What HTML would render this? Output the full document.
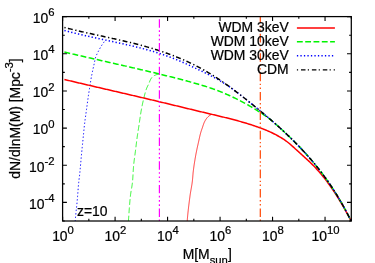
<!DOCTYPE html>
<html><head><meta charset="utf-8"><title>plot</title>
<style>
html,body{margin:0;padding:0;background:#fff;}
body{width:375px;height:263px;overflow:hidden;}
svg{display:block;will-change:transform;}
text{font-family:"Liberation Sans",sans-serif;fill:#000;stroke:#000;stroke-width:0.22px;}
</style></head><body>
<svg width="375" height="263" viewBox="0 0 375 263">
<rect width="375" height="263" fill="#fff"/>
<defs><clipPath id="c"><rect x="62.6" y="16.6" width="288.70" height="204.40"/></clipPath></defs>
<g fill="none" clip-path="url(#c)">
<path d="M75.20,221.50 L75.26,220.57 L75.33,219.64 L75.40,218.72 L75.48,217.79 L75.56,216.86 L75.65,215.94 L75.74,215.01 L75.83,214.08 L75.92,213.16 L76.02,212.23 L76.12,211.31 L76.22,210.38 L76.32,209.45 L76.41,208.53 L76.51,207.60 L76.61,206.68 L76.71,205.75 L76.81,204.83 L76.90,203.90 L76.99,202.97 L77.08,202.05 L77.17,201.12 L77.25,200.19 L77.33,199.27 L77.41,198.34 L77.49,197.41 L77.56,196.48 L77.64,195.56 L77.71,194.63 L77.78,193.70 L77.85,192.77 L77.92,191.84 L77.99,190.92 L78.07,189.99 L78.14,189.06 L78.21,188.13 L78.29,187.20 L78.37,186.28 L78.45,185.35 L78.53,184.42 L78.61,183.50 L78.70,182.57 L78.80,181.65 L78.90,180.72 L79.01,179.80 L79.12,178.87 L79.24,177.95 L79.36,177.03 L79.47,176.10 L79.58,175.18 L79.68,174.25 L79.78,173.33 L79.87,172.40 L79.96,171.48 L80.05,170.55 L80.14,169.62 L80.22,168.70 L80.31,167.77 L80.39,166.84 L80.48,165.92 L80.56,164.99 L80.64,164.06 L80.72,163.13 L80.80,162.21 L80.88,161.28 L80.96,160.35 L81.05,159.43 L81.13,158.50 L81.21,157.57 L81.30,156.65 L81.38,155.72 L81.47,154.79 L81.56,153.87 L81.65,152.94 L81.74,152.01 L81.83,151.09 L81.93,150.16 L82.02,149.23 L82.11,148.31 L82.20,147.38 L82.30,146.46 L82.39,145.53 L82.48,144.60 L82.58,143.68 L82.67,142.75 L82.76,141.83 L82.86,140.90 L82.95,139.98 L83.04,139.05 L83.14,138.12 L83.23,137.20 L83.32,136.27 L83.41,135.34 L83.50,134.42 L83.59,133.49 L83.68,132.57 L83.77,131.64 L83.85,130.71 L83.94,129.79 L84.04,128.86 L84.13,127.93 L84.22,127.01 L84.32,126.08 L84.43,125.16 L84.53,124.23 L84.65,123.31 L84.76,122.39 L84.88,121.46 L85.00,120.54 L85.12,119.62 L85.24,118.70 L85.37,117.77 L85.49,116.85 L85.62,115.93 L85.75,115.01 L85.88,114.09 L86.00,113.16 L86.13,112.24 L86.26,111.32 L86.38,110.40 L86.51,109.47 L86.63,108.55 L86.75,107.63 L86.88,106.71 L87.00,105.79 L87.13,104.86 L87.25,103.94 L87.38,103.02 L87.51,102.10 L87.64,101.17 L87.76,100.25 L87.89,99.33 L88.02,98.41 L88.16,97.49 L88.29,96.57 L88.42,95.65 L88.56,94.73 L88.69,93.81 L88.83,92.89 L88.97,91.97 L89.11,91.05 L89.26,90.13 L89.40,89.21 L89.54,88.29 L89.69,87.37 L89.83,86.45 L89.98,85.53 L90.13,84.61 L90.27,83.69 L90.42,82.77 L90.57,81.85 L90.71,80.93 L90.86,80.01 L91.02,79.10 L91.17,78.18 L91.33,77.26 L91.50,76.35 L91.67,75.43 L91.85,74.52 L92.03,73.61 L92.22,72.70 L92.41,71.78 L92.60,70.87 L92.80,69.97 L93.00,69.06 L93.20,68.15 L93.41,67.24 L93.61,66.33 L93.82,65.42 L94.02,64.51 L94.21,63.60 L94.40,62.68 L94.59,61.76 L94.77,60.85 L94.96,59.93 L95.17,59.02 L95.39,58.12 L95.64,57.23 L95.91,56.36 L96.26,55.50 L96.67,54.67 L97.11,53.84 L97.55,53.01 L97.96,52.17 L98.37,51.34 L98.78,50.51 L99.21,49.68 L99.65,48.86 L100.10,48.04 L100.56,47.23 L101.03,46.43 L101.53,45.65 L102.05,44.88 L102.59,44.12 L103.13,43.36 L103.64,42.58 L104.14,41.79 L104.62,41.00 L105.10,40.20" stroke="#0000ff" stroke-width="0.95" stroke-dasharray="1.4 2.1"/>
<path d="M128.40,221.50 L128.45,220.73 L128.50,219.96 L128.56,219.18 L128.61,218.41 L128.66,217.64 L128.72,216.86 L128.77,216.09 L128.82,215.32 L128.88,214.55 L128.93,213.77 L128.99,213.00 L129.04,212.23 L129.09,211.45 L129.15,210.68 L129.20,209.91 L129.26,209.14 L129.32,208.36 L129.37,207.59 L129.43,206.82 L129.49,206.05 L129.55,205.27 L129.61,204.50 L129.68,203.73 L129.74,202.96 L129.81,202.19 L129.88,201.42 L129.94,200.65 L130.01,199.88 L130.09,199.11 L130.16,198.34 L130.24,197.57 L130.32,196.80 L130.40,196.03 L130.48,195.26 L130.58,194.49 L130.69,193.73 L130.80,192.96 L130.92,192.20 L131.05,191.43 L131.17,190.67 L131.31,189.90 L131.44,189.14 L131.57,188.37 L131.70,187.61 L131.83,186.84 L131.95,186.08 L132.07,185.31 L132.18,184.55 L132.29,183.78 L132.38,183.01 L132.47,182.25 L132.54,181.48 L132.61,180.71 L132.67,179.94 L132.73,179.17 L132.78,178.39 L132.84,177.62 L132.89,176.85 L132.93,176.08 L132.98,175.30 L133.02,174.53 L133.07,173.75 L133.11,172.98 L133.16,172.21 L133.20,171.43 L133.25,170.66 L133.29,169.89 L133.35,169.11 L133.40,168.34 L133.46,167.57 L133.52,166.80 L133.58,166.03 L133.65,165.26 L133.72,164.49 L133.80,163.72 L133.89,162.95 L133.98,162.18 L134.07,161.41 L134.16,160.64 L134.26,159.87 L134.36,159.11 L134.46,158.34 L134.57,157.57 L134.67,156.80 L134.77,156.04 L134.88,155.27 L134.99,154.50 L135.09,153.73 L135.19,152.97 L135.29,152.20 L135.39,151.43 L135.49,150.66 L135.59,149.89 L135.68,149.12 L135.78,148.36 L135.87,147.59 L135.96,146.82 L136.06,146.05 L136.15,145.28 L136.24,144.51 L136.34,143.74 L136.43,142.98 L136.53,142.21 L136.62,141.44 L136.72,140.67 L136.82,139.90 L136.92,139.14 L137.02,138.37 L137.13,137.60 L137.23,136.84 L137.34,136.07 L137.45,135.30 L137.57,134.54 L137.68,133.77 L137.80,133.01 L137.91,132.24 L138.03,131.47 L138.15,130.71 L138.26,129.94 L138.38,129.18 L138.50,128.41 L138.62,127.65 L138.74,126.88 L138.85,126.12 L138.97,125.35 L139.08,124.59 L139.19,123.82 L139.30,123.05 L139.41,122.29 L139.52,121.52 L139.63,120.75 L139.74,119.99 L139.85,119.22 L139.96,118.45 L140.07,117.69 L140.19,116.92 L140.30,116.15 L140.42,115.39 L140.53,114.62 L140.65,113.86 L140.78,113.09 L140.90,112.33 L141.03,111.57 L141.16,110.81 L141.30,110.04 L141.44,109.28 L141.58,108.52 L141.72,107.76 L141.87,107.00 L142.02,106.24 L142.18,105.48 L142.33,104.72 L142.49,103.96 L142.65,103.21 L142.82,102.45 L142.99,101.69 L143.16,100.94 L143.33,100.18 L143.51,99.43 L143.69,98.68 L143.87,97.93 L144.05,97.17 L144.24,96.42 L144.43,95.67 L144.62,94.92 L144.82,94.17 L145.02,93.42 L145.23,92.67 L145.45,91.92 L145.67,91.18 L145.91,90.44 L146.15,89.71 L146.40,88.98 L146.67,88.26 L146.96,87.55 L147.28,86.85 L147.62,86.15 L147.96,85.45 L148.30,84.75 L148.63,84.05 L148.94,83.34 L149.24,82.61 L149.52,81.89 L149.81,81.16 L150.12,80.45 L150.45,79.75 L150.81,79.09 L151.21,78.42 L151.66,77.76 L152.15,77.13 L152.68,76.59 L153.26,76.14 L153.91,75.75 L154.62,75.41 L155.36,75.09 L156.09,74.80 L156.81,74.54 L157.55,74.31 L158.30,74.10" stroke="#00f400" stroke-width="0.8" stroke-dasharray="5.8 2.5"/>
<path d="M187.20,221.50 L187.24,220.94 L187.27,220.38 L187.31,219.82 L187.36,219.26 L187.40,218.70 L187.45,218.15 L187.50,217.59 L187.55,217.03 L187.60,216.47 L187.65,215.91 L187.70,215.35 L187.76,214.80 L187.81,214.24 L187.87,213.68 L187.92,213.12 L187.98,212.56 L188.04,212.01 L188.10,211.45 L188.16,210.89 L188.22,210.33 L188.28,209.78 L188.34,209.22 L188.41,208.66 L188.47,208.10 L188.54,207.55 L188.60,206.99 L188.67,206.43 L188.74,205.87 L188.80,205.32 L188.87,204.76 L188.94,204.20 L189.01,203.65 L189.08,203.09 L189.15,202.53 L189.22,201.98 L189.29,201.42 L189.36,200.87 L189.43,200.31 L189.51,199.75 L189.58,199.20 L189.65,198.64 L189.72,198.09 L189.80,197.53 L189.87,196.97 L189.94,196.42 L190.02,195.86 L190.09,195.31 L190.18,194.75 L190.26,194.20 L190.34,193.64 L190.43,193.09 L190.52,192.54 L190.62,191.98 L190.71,191.43 L190.80,190.88 L190.90,190.32 L191.00,189.77 L191.09,189.22 L191.19,188.67 L191.29,188.11 L191.39,187.56 L191.48,187.01 L191.58,186.45 L191.67,185.90 L191.76,185.35 L191.85,184.79 L191.94,184.24 L192.02,183.69 L192.10,183.13 L192.18,182.58 L192.25,182.02 L192.32,181.47 L192.39,180.91 L192.45,180.35 L192.51,179.80 L192.56,179.24 L192.61,178.68 L192.66,178.12 L192.71,177.56 L192.75,177.00 L192.80,176.44 L192.84,175.88 L192.89,175.33 L192.94,174.77 L192.98,174.21 L193.03,173.65 L193.09,173.09 L193.14,172.53 L193.20,171.98 L193.27,171.42 L193.33,170.86 L193.40,170.31 L193.47,169.75 L193.54,169.19 L193.61,168.64 L193.68,168.08 L193.76,167.53 L193.83,166.97 L193.91,166.42 L193.99,165.86 L194.07,165.30 L194.16,164.75 L194.24,164.19 L194.33,163.64 L194.41,163.09 L194.50,162.53 L194.59,161.98 L194.68,161.42 L194.77,160.87 L194.86,160.32 L194.95,159.76 L195.05,159.21 L195.14,158.66 L195.23,158.10 L195.33,157.55 L195.43,157.00 L195.52,156.45 L195.62,155.90 L195.72,155.34 L195.82,154.79 L195.92,154.24 L196.02,153.69 L196.13,153.14 L196.24,152.59 L196.35,152.04 L196.46,151.49 L196.57,150.94 L196.69,150.39 L196.80,149.85 L196.92,149.30 L197.03,148.75 L197.15,148.20 L197.27,147.65 L197.39,147.10 L197.51,146.56 L197.63,146.01 L197.76,145.46 L197.88,144.91 L198.00,144.36 L198.12,143.82 L198.25,143.27 L198.37,142.72 L198.49,142.18 L198.61,141.63 L198.74,141.08 L198.86,140.53 L198.98,139.99 L199.10,139.44 L199.22,138.89 L199.34,138.34 L199.46,137.79 L199.58,137.24 L199.71,136.70 L199.83,136.15 L199.96,135.60 L200.09,135.06 L200.22,134.51 L200.36,133.97 L200.50,133.43 L200.65,132.89 L200.80,132.35 L200.96,131.82 L201.13,131.28 L201.31,130.75 L201.49,130.22 L201.67,129.69 L201.86,129.16 L202.05,128.63 L202.23,128.10 L202.41,127.57 L202.59,127.03 L202.77,126.50 L202.95,125.96 L203.12,125.43 L203.30,124.89 L203.49,124.36 L203.68,123.83 L203.88,123.31 L204.09,122.80 L204.31,122.29 L204.55,121.79 L204.80,121.29 L205.07,120.79 L205.35,120.30 L205.65,119.81 L205.96,119.33 L206.28,118.87 L206.61,118.42 L206.95,117.98 L207.30,117.56 L207.69,117.16 L208.09,116.76 L208.51,116.38 L208.95,116.02 L209.39,115.68 L209.85,115.36 L210.32,115.05 L210.80,114.77 L211.30,114.50" stroke="#ff0000" stroke-width="0.8"/>
<path d="M64.40,79.50 L65.36,79.73 L66.32,79.96 L67.28,80.19 L68.23,80.41 L69.19,80.64 L70.15,80.87 L71.11,81.09 L72.07,81.32 L73.03,81.55 L73.99,81.77 L74.94,82.00 L75.90,82.22 L76.86,82.45 L77.82,82.67 L78.78,82.90 L79.74,83.12 L80.69,83.35 L81.65,83.57 L82.61,83.80 L83.57,84.02 L84.53,84.25 L85.49,84.47 L86.45,84.69 L87.40,84.92 L88.36,85.14 L89.32,85.37 L90.28,85.59 L91.24,85.81 L92.20,86.04 L93.16,86.26 L94.11,86.48 L95.07,86.71 L96.03,86.93 L96.99,87.15 L97.95,87.37 L98.91,87.60 L99.87,87.82 L100.82,88.04 L101.78,88.26 L102.74,88.49 L103.70,88.71 L104.66,88.93 L105.62,89.15 L106.58,89.38 L107.53,89.60 L108.49,89.82 L109.45,90.04 L110.41,90.27 L111.37,90.49 L112.33,90.71 L113.28,90.93 L114.24,91.16 L115.20,91.38 L116.16,91.60 L117.12,91.82 L118.08,92.05 L119.04,92.27 L119.99,92.49 L120.95,92.71 L121.91,92.94 L122.87,93.16 L123.83,93.38 L124.79,93.60 L125.75,93.83 L126.70,94.05 L127.66,94.27 L128.62,94.50 L129.58,94.72 L130.54,94.94 L131.50,95.17 L132.46,95.39 L133.41,95.61 L134.37,95.84 L135.33,96.06 L136.29,96.29 L137.25,96.51 L138.21,96.73 L139.17,96.96 L140.12,97.18 L141.08,97.41 L142.04,97.63 L143.00,97.86 L143.96,98.08 L144.92,98.31 L145.87,98.53 L146.83,98.76 L147.79,98.99 L148.75,99.21 L149.71,99.44 L150.67,99.67 L151.63,99.89 L152.58,100.12 L153.54,100.35 L154.50,100.57 L155.46,100.80 L156.42,101.03 L157.38,101.26 L158.34,101.49 L159.29,101.72 L160.25,101.95 L161.21,102.17 L162.17,102.40 L163.13,102.63 L164.09,102.86 L165.05,103.09 L166.00,103.32 L166.96,103.55 L167.92,103.78 L168.88,104.02 L169.84,104.25 L170.80,104.48 L171.76,104.71 L172.71,104.94 L173.67,105.17 L174.63,105.40 L175.59,105.63 L176.55,105.87 L177.51,106.10 L178.46,106.33 L179.42,106.56 L180.38,106.79 L181.34,107.02 L182.30,107.26 L183.26,107.49 L184.22,107.72 L185.17,107.95 L186.13,108.18 L187.09,108.42 L188.05,108.65 L189.01,108.88 L189.97,109.11 L190.93,109.34 L191.88,109.57 L192.84,109.80 L193.80,110.04 L194.76,110.27 L195.72,110.50 L196.68,110.73 L197.64,110.96 L198.59,111.19 L199.55,111.42 L200.51,111.65 L201.47,111.88 L202.43,112.11 L203.39,112.34 L204.35,112.57 L205.30,112.80 L206.26,113.03 L207.22,113.25 L208.18,113.48 L209.14,113.71 L210.10,113.94 L211.05,114.16 L212.01,114.39 L212.97,114.62 L213.93,114.85 L214.89,115.07 L215.85,115.30 L216.81,115.53 L217.76,115.76 L218.72,115.99 L219.68,116.22 L220.64,116.45 L221.60,116.68 L222.56,116.91 L223.52,117.14 L224.47,117.38 L225.43,117.61 L226.39,117.85 L227.35,118.09 L228.31,118.33 L229.27,118.57 L230.23,118.82 L231.18,119.06 L232.14,119.31 L233.10,119.56 L234.06,119.81 L235.02,120.07 L235.98,120.32 L236.94,120.58 L237.89,120.84 L238.85,121.11 L239.81,121.37 L240.77,121.64 L241.73,121.91 L242.69,122.19 L243.64,122.47 L244.60,122.75 L245.56,123.04 L246.52,123.33 L247.48,123.62 L248.44,123.91 L249.40,124.21 L250.35,124.52 L251.31,124.82 L252.27,125.14 L253.23,125.45 L254.19,125.77 L255.15,126.10 L256.11,126.42 L257.06,126.76 L258.02,127.09 L258.98,127.44 L259.94,127.79 L260.90,128.14 L261.86,128.50 L262.82,128.87 L263.77,129.24 L264.73,129.63 L265.69,130.02 L266.65,130.42 L267.61,130.82 L268.57,131.24 L269.53,131.67 L270.48,132.10 L271.44,132.55 L272.40,133.01 L273.36,133.48 L274.32,133.96 L275.28,134.45 L276.23,134.95 L277.19,135.47 L278.15,135.99 L279.11,136.53 L280.07,137.09 L281.03,137.66 L281.99,138.24 L282.94,138.84 L283.90,139.46 L284.86,140.11 L285.82,140.78 L286.78,141.49 L287.74,142.23 L288.70,143.00 L289.65,143.80 L290.61,144.62 L291.57,145.46 L292.53,146.32 L293.49,147.18 L294.45,148.05 L295.41,148.93 L296.36,149.80 L297.32,150.66 L298.28,151.53 L299.24,152.39 L300.20,153.25 L301.16,154.11 L302.12,154.97 L303.07,155.83 L304.03,156.70 L304.99,157.57 L305.95,158.45 L306.91,159.33 L307.87,160.23 L308.82,161.13 L309.78,162.05 L310.74,162.97 L311.70,163.91 L312.66,164.87 L313.62,165.84 L314.58,166.83 L315.53,167.84 L316.49,168.87 L317.45,169.92 L318.41,170.99 L319.37,172.08 L320.33,173.20 L321.29,174.34 L322.24,175.50 L323.20,176.69 L324.16,177.89 L325.12,179.13 L326.08,180.38 L327.04,181.65 L328.00,182.95 L328.95,184.27 L329.91,185.61 L330.87,186.98 L331.83,188.36 L332.79,189.77 L333.75,191.20 L334.71,192.66 L335.66,194.13 L336.62,195.63 L337.58,197.14 L338.54,198.68 L339.50,200.24 L340.46,201.83 L341.41,203.43 L342.37,205.06 L343.33,206.71 L344.29,208.37 L345.25,210.06 L346.21,211.77 L347.17,213.51 L348.12,215.26 L349.08,217.04 L350.04,218.90 L351.00,220.83" stroke="#ff0000" stroke-width="1.5"/>
<path d="M64.40,52.08 L65.36,52.30 L66.32,52.53 L67.28,52.76 L68.23,52.98 L69.19,53.21 L70.15,53.43 L71.11,53.66 L72.07,53.88 L73.03,54.11 L73.99,54.33 L74.94,54.55 L75.90,54.78 L76.86,55.00 L77.82,55.22 L78.78,55.44 L79.74,55.66 L80.69,55.88 L81.65,56.10 L82.61,56.32 L83.57,56.54 L84.53,56.76 L85.49,56.98 L86.45,57.20 L87.40,57.42 L88.36,57.64 L89.32,57.86 L90.28,58.08 L91.24,58.29 L92.20,58.51 L93.16,58.73 L94.11,58.95 L95.07,59.17 L96.03,59.38 L96.99,59.60 L97.95,59.82 L98.91,60.03 L99.87,60.25 L100.82,60.47 L101.78,60.68 L102.74,60.90 L103.70,61.12 L104.66,61.33 L105.62,61.55 L106.58,61.77 L107.53,61.98 L108.49,62.20 L109.45,62.42 L110.41,62.63 L111.37,62.85 L112.33,63.07 L113.28,63.28 L114.24,63.50 L115.20,63.72 L116.16,63.93 L117.12,64.15 L118.08,64.37 L119.04,64.59 L119.99,64.80 L120.95,65.02 L121.91,65.24 L122.87,65.46 L123.83,65.67 L124.79,65.89 L125.75,66.11 L126.70,66.33 L127.66,66.55 L128.62,66.77 L129.58,66.99 L130.54,67.21 L131.50,67.43 L132.46,67.65 L133.41,67.87 L134.37,68.09 L135.33,68.31 L136.29,68.54 L137.25,68.76 L138.21,68.98 L139.17,69.20 L140.12,69.43 L141.08,69.65 L142.04,69.87 L143.00,70.10 L143.96,70.32 L144.92,70.55 L145.87,70.77 L146.83,71.00 L147.79,71.23 L148.75,71.46 L149.71,71.68 L150.67,71.91 L151.63,72.14 L152.58,72.37 L153.54,72.60 L154.50,72.83 L155.46,73.06 L156.42,73.29 L157.38,73.53 L158.34,73.76 L159.29,73.99 L160.25,74.23 L161.21,74.46 L162.17,74.70 L163.13,74.93 L164.09,75.17 L165.05,75.41 L166.00,75.65 L166.96,75.88 L167.92,76.12 L168.88,76.36 L169.84,76.61 L170.80,76.85 L171.76,77.09 L172.71,77.33 L173.67,77.58 L174.63,77.82 L175.59,78.07 L176.55,78.32 L177.51,78.56 L178.46,78.81 L179.42,79.06 L180.38,79.31 L181.34,79.56 L182.30,79.81 L183.26,80.07 L184.22,80.32 L185.17,80.58 L186.13,80.83 L187.09,81.09 L188.05,81.35 L189.01,81.60 L189.97,81.86 L190.93,82.12 L191.88,82.39 L192.84,82.65 L193.80,82.92 L194.76,83.18 L195.72,83.45 L196.68,83.72 L197.64,84.00 L198.59,84.28 L199.55,84.56 L200.51,84.84 L201.47,85.12 L202.43,85.41 L203.39,85.71 L204.35,86.00 L205.30,86.31 L206.26,86.61 L207.22,86.92 L208.18,87.23 L209.14,87.55 L210.10,87.88 L211.05,88.20 L212.01,88.54 L212.97,88.88 L213.93,89.22 L214.89,89.57 L215.85,89.92 L216.81,90.29 L217.76,90.65 L218.72,91.02 L219.68,91.40 L220.64,91.78 L221.60,92.17 L222.56,92.56 L223.52,92.96 L224.47,93.36 L225.43,93.77 L226.39,94.19 L227.35,94.61 L228.31,95.03 L229.27,95.46 L230.23,95.90 L231.18,96.34 L232.14,96.79 L233.10,97.25 L234.06,97.70 L235.02,98.17 L235.98,98.64 L236.94,99.12 L237.89,99.60 L238.85,100.08 L239.81,100.58 L240.77,101.07 L241.73,101.58 L242.69,102.09 L243.64,102.60 L244.60,103.12 L245.56,103.65 L246.52,104.18 L247.48,104.72 L248.44,105.27 L249.40,105.82 L250.35,106.37 L251.31,106.93 L252.27,107.50 L253.23,108.07 L254.19,108.65 L255.15,109.23 L256.11,109.82 L257.06,110.42 L258.02,111.02 L258.98,111.63 L259.94,112.24 L260.90,112.87 L261.86,113.49 L262.82,114.13 L263.77,114.78 L264.73,115.43 L265.69,116.09 L266.65,116.76 L267.61,117.44 L268.57,118.13 L269.53,118.82 L270.48,119.55 L271.44,120.37 L272.40,121.20 L273.36,122.04 L274.32,122.88 L275.28,123.73 L276.23,124.58 L277.19,125.43 L278.15,126.29 L279.11,127.16 L280.07,128.02 L281.03,128.90 L281.99,129.78 L282.94,130.66 L283.90,131.56 L284.86,132.45 L285.82,133.35 L286.78,134.26 L287.74,135.18 L288.70,136.09 L289.65,137.02 L290.61,137.95 L291.57,138.89 L292.53,139.83 L293.49,140.78 L294.45,141.74 L295.41,142.71 L296.36,143.68 L297.32,144.65 L298.28,145.64 L299.24,146.63 L300.20,147.63 L301.16,148.64 L302.12,149.66 L303.07,150.69 L304.03,151.72 L304.99,152.77 L305.95,153.83 L306.91,154.89 L307.87,155.97 L308.82,157.05 L309.78,158.15 L310.74,159.26 L311.70,160.38 L312.66,161.51 L313.62,162.66 L314.58,163.82 L315.53,164.98 L316.49,166.17 L317.45,167.36 L318.41,168.57 L319.37,169.79 L320.33,171.03 L321.29,172.28 L322.24,173.55 L323.20,174.83 L324.16,176.13 L325.12,177.44 L326.08,178.77 L327.04,180.12 L328.00,181.48 L328.95,182.87 L329.91,184.27 L330.87,185.69 L331.83,187.13 L332.79,188.59 L333.75,190.07 L334.71,191.58 L335.66,193.10 L336.62,194.65 L337.58,196.22 L338.54,197.81 L339.50,199.42 L340.46,201.06 L341.41,202.73 L342.37,204.42 L343.33,206.13 L344.29,207.88 L345.25,209.64 L346.21,211.44 L347.17,213.26 L348.12,215.11 L349.08,216.99 L350.04,218.90 L351.00,220.83" stroke="#00f400" stroke-width="1.5" stroke-dasharray="5.85 2.45"/>
<path d="M64.40,30.42 L65.36,30.68 L66.32,30.94 L67.28,31.19 L68.23,31.45 L69.19,31.70 L70.15,31.95 L71.11,32.20 L72.07,32.44 L73.03,32.68 L73.99,32.93 L74.94,33.16 L75.90,33.40 L76.86,33.64 L77.82,33.87 L78.78,34.10 L79.74,34.33 L80.69,34.56 L81.65,34.79 L82.61,35.01 L83.57,35.24 L84.53,35.46 L85.49,35.68 L86.45,35.90 L87.40,36.12 L88.36,36.34 L89.32,36.55 L90.28,36.77 L91.24,36.98 L92.20,37.20 L93.16,37.41 L94.11,37.62 L95.07,37.83 L96.03,38.04 L96.99,38.26 L97.95,38.47 L98.91,38.67 L99.87,38.88 L100.82,39.09 L101.78,39.30 L102.74,39.51 L103.70,39.72 L104.66,39.92 L105.62,40.13 L106.58,40.34 L107.53,40.55 L108.49,40.75 L109.45,40.96 L110.41,41.16 L111.37,41.37 L112.33,41.58 L113.28,41.78 L114.24,41.99 L115.20,42.19 L116.16,42.40 L117.12,42.60 L118.08,42.81 L119.04,43.02 L119.99,43.23 L120.95,43.43 L121.91,43.64 L122.87,43.85 L123.83,44.07 L124.79,44.28 L125.75,44.49 L126.70,44.71 L127.66,44.92 L128.62,45.14 L129.58,45.36 L130.54,45.58 L131.50,45.80 L132.46,46.03 L133.41,46.25 L134.37,46.48 L135.33,46.71 L136.29,46.94 L137.25,47.17 L138.21,47.41 L139.17,47.65 L140.12,47.89 L141.08,48.13 L142.04,48.38 L143.00,48.63 L143.96,48.88 L144.92,49.14 L145.87,49.39 L146.83,49.66 L147.79,49.92 L148.75,50.19 L149.71,50.46 L150.67,50.73 L151.63,51.01 L152.58,51.29 L153.54,51.58 L154.50,51.86 L155.46,52.16 L156.42,52.45 L157.38,52.75 L158.34,53.06 L159.29,53.37 L160.25,53.68 L161.21,54.00 L162.17,54.32 L163.13,54.65 L164.09,54.98 L165.05,55.31 L166.00,55.65 L166.96,56.00 L167.92,56.35 L168.88,56.70 L169.84,57.06 L170.80,57.42 L171.76,57.78 L172.71,58.15 L173.67,58.53 L174.63,58.91 L175.59,59.29 L176.55,59.68 L177.51,60.07 L178.46,60.47 L179.42,60.87 L180.38,61.28 L181.34,61.69 L182.30,62.11 L183.26,62.53 L184.22,62.96 L185.17,63.39 L186.13,63.82 L187.09,64.26 L188.05,64.71 L189.01,65.16 L189.97,65.61 L190.93,66.07 L191.88,66.54 L192.84,67.00 L193.80,67.46 L194.76,67.92 L195.72,68.38 L196.68,68.83 L197.64,69.28 L198.59,69.73 L199.55,70.18 L200.51,70.64 L201.47,71.09 L202.43,71.55 L203.39,72.01 L204.35,72.48 L205.30,72.95 L206.26,73.43 L207.22,73.92 L208.18,74.41 L209.14,74.91 L210.10,75.40 L211.05,75.89 L212.01,76.38 L212.97,76.88 L213.93,77.38 L214.89,77.89 L215.85,78.40 L216.81,78.93 L217.76,79.46 L218.72,80.01 L219.68,80.57 L220.64,81.14 L221.60,81.71 L222.56,82.29 L223.52,82.87 L224.47,83.47 L225.43,84.08 L226.39,84.71 L227.35,85.35 L228.31,86.01 L229.27,86.68 L230.23,87.35 L231.18,88.03 L232.14,88.72 L233.10,89.42 L234.06,90.12 L235.02,90.84 L235.98,91.56 L236.94,92.29 L237.89,93.02 L238.85,93.76 L239.81,94.50 L240.77,95.25 L241.73,95.99 L242.69,96.74 L243.64,97.50 L244.60,98.26 L245.56,99.01 L246.52,99.78 L247.48,100.54 L248.44,101.31 L249.40,102.08 L250.35,102.85 L251.31,103.63 L252.27,104.40 L253.23,105.18 L254.19,105.96 L255.15,106.74 L256.11,107.53 L257.06,108.31 L258.02,109.10 L258.98,109.89 L259.94,110.68 L260.90,111.47 L261.86,112.26 L262.82,113.06 L263.77,113.86 L264.73,114.66 L265.69,115.47 L266.65,116.28 L267.61,117.09 L268.57,117.90 L269.53,118.72 L270.48,119.55 L271.44,120.37 L272.40,121.20 L273.36,122.04 L274.32,122.88 L275.28,123.73 L276.23,124.58 L277.19,125.43 L278.15,126.29 L279.11,127.16 L280.07,128.02 L281.03,128.90 L281.99,129.78 L282.94,130.66 L283.90,131.56 L284.86,132.45 L285.82,133.35 L286.78,134.26 L287.74,135.18 L288.70,136.09 L289.65,137.02 L290.61,137.95 L291.57,138.89 L292.53,139.83 L293.49,140.78 L294.45,141.74 L295.41,142.71 L296.36,143.68 L297.32,144.65 L298.28,145.64 L299.24,146.63 L300.20,147.63 L301.16,148.64 L302.12,149.66 L303.07,150.69 L304.03,151.72 L304.99,152.77 L305.95,153.83 L306.91,154.89 L307.87,155.97 L308.82,157.05 L309.78,158.15 L310.74,159.26 L311.70,160.38 L312.66,161.51 L313.62,162.66 L314.58,163.82 L315.53,164.98 L316.49,166.17 L317.45,167.36 L318.41,168.57 L319.37,169.79 L320.33,171.03 L321.29,172.28 L322.24,173.55 L323.20,174.83 L324.16,176.13 L325.12,177.44 L326.08,178.77 L327.04,180.12 L328.00,181.48 L328.95,182.87 L329.91,184.27 L330.87,185.69 L331.83,187.13 L332.79,188.59 L333.75,190.07 L334.71,191.58 L335.66,193.10 L336.62,194.65 L337.58,196.22 L338.54,197.81 L339.50,199.42 L340.46,201.06 L341.41,202.73 L342.37,204.42 L343.33,206.13 L344.29,207.88 L345.25,209.64 L346.21,211.44 L347.17,213.26 L348.12,215.11 L349.08,216.99 L350.04,218.90 L351.00,220.83" stroke="#0000ff" stroke-width="1.5" stroke-dasharray="1.3 2.2"/>
<path d="M64.40,27.41 L65.36,27.66 L66.32,27.91 L67.28,28.16 L68.23,28.41 L69.19,28.65 L70.15,28.89 L71.11,29.13 L72.07,29.37 L73.03,29.60 L73.99,29.84 L74.94,30.07 L75.90,30.30 L76.86,30.53 L77.82,30.75 L78.78,30.98 L79.74,31.20 L80.69,31.43 L81.65,31.65 L82.61,31.87 L83.57,32.09 L84.53,32.30 L85.49,32.52 L86.45,32.74 L87.40,32.95 L88.36,33.17 L89.32,33.38 L90.28,33.59 L91.24,33.80 L92.20,34.01 L93.16,34.22 L94.11,34.43 L95.07,34.64 L96.03,34.85 L96.99,35.06 L97.95,35.27 L98.91,35.48 L99.87,35.69 L100.82,35.89 L101.78,36.10 L102.74,36.31 L103.70,36.52 L104.66,36.72 L105.62,36.93 L106.58,37.14 L107.53,37.35 L108.49,37.56 L109.45,37.77 L110.41,37.98 L111.37,38.19 L112.33,38.40 L113.28,38.61 L114.24,38.82 L115.20,39.03 L116.16,39.25 L117.12,39.46 L118.08,39.68 L119.04,39.90 L119.99,40.11 L120.95,40.33 L121.91,40.55 L122.87,40.77 L123.83,41.00 L124.79,41.22 L125.75,41.44 L126.70,41.67 L127.66,41.90 L128.62,42.13 L129.58,42.36 L130.54,42.59 L131.50,42.83 L132.46,43.06 L133.41,43.30 L134.37,43.54 L135.33,43.79 L136.29,44.03 L137.25,44.28 L138.21,44.53 L139.17,44.78 L140.12,45.03 L141.08,45.29 L142.04,45.54 L143.00,45.80 L143.96,46.07 L144.92,46.33 L145.87,46.60 L146.83,46.87 L147.79,47.15 L148.75,47.42 L149.71,47.70 L150.67,47.98 L151.63,48.27 L152.58,48.56 L153.54,48.85 L154.50,49.14 L155.46,49.44 L156.42,49.74 L157.38,50.05 L158.34,50.35 L159.29,50.67 L160.25,50.98 L161.21,51.30 L162.17,51.62 L163.13,51.95 L164.09,52.28 L165.05,52.61 L166.00,52.95 L166.96,53.29 L167.92,53.63 L168.88,53.98 L169.84,54.34 L170.80,54.70 L171.76,55.06 L172.71,55.42 L173.67,55.79 L174.63,56.17 L175.59,56.55 L176.55,56.93 L177.51,57.32 L178.46,57.71 L179.42,58.11 L180.38,58.51 L181.34,58.92 L182.30,59.33 L183.26,59.75 L184.22,60.17 L185.17,60.60 L186.13,61.03 L187.09,61.47 L188.05,61.91 L189.01,62.36 L189.97,62.81 L190.93,63.27 L191.88,63.74 L192.84,64.21 L193.80,64.68 L194.76,65.16 L195.72,65.65 L196.68,66.14 L197.64,66.64 L198.59,67.15 L199.55,67.66 L200.51,68.17 L201.47,68.70 L202.43,69.22 L203.39,69.76 L204.35,70.30 L205.30,70.85 L206.26,71.40 L207.22,71.96 L208.18,72.53 L209.14,73.10 L210.10,73.68 L211.05,74.26 L212.01,74.86 L212.97,75.46 L213.93,76.06 L214.89,76.68 L215.85,77.29 L216.81,77.92 L217.76,78.55 L218.72,79.19 L219.68,79.83 L220.64,80.48 L221.60,81.14 L222.56,81.80 L223.52,82.46 L224.47,83.13 L225.43,83.81 L226.39,84.49 L227.35,85.18 L228.31,85.87 L229.27,86.56 L230.23,87.26 L231.18,87.97 L232.14,88.68 L233.10,89.39 L234.06,90.11 L235.02,90.83 L235.98,91.56 L236.94,92.29 L237.89,93.02 L238.85,93.76 L239.81,94.50 L240.77,95.25 L241.73,95.99 L242.69,96.74 L243.64,97.50 L244.60,98.26 L245.56,99.01 L246.52,99.78 L247.48,100.54 L248.44,101.31 L249.40,102.08 L250.35,102.85 L251.31,103.63 L252.27,104.40 L253.23,105.18 L254.19,105.96 L255.15,106.74 L256.11,107.53 L257.06,108.31 L258.02,109.10 L258.98,109.89 L259.94,110.68 L260.90,111.47 L261.86,112.26 L262.82,113.06 L263.77,113.86 L264.73,114.66 L265.69,115.47 L266.65,116.28 L267.61,117.09 L268.57,117.90 L269.53,118.72 L270.48,119.55 L271.44,120.37 L272.40,121.20 L273.36,122.04 L274.32,122.88 L275.28,123.73 L276.23,124.58 L277.19,125.43 L278.15,126.29 L279.11,127.16 L280.07,128.02 L281.03,128.90 L281.99,129.78 L282.94,130.66 L283.90,131.56 L284.86,132.45 L285.82,133.35 L286.78,134.26 L287.74,135.18 L288.70,136.09 L289.65,137.02 L290.61,137.95 L291.57,138.89 L292.53,139.83 L293.49,140.78 L294.45,141.74 L295.41,142.71 L296.36,143.68 L297.32,144.65 L298.28,145.64 L299.24,146.63 L300.20,147.63 L301.16,148.64 L302.12,149.66 L303.07,150.69 L304.03,151.72 L304.99,152.77 L305.95,153.83 L306.91,154.89 L307.87,155.97 L308.82,157.05 L309.78,158.15 L310.74,159.26 L311.70,160.38 L312.66,161.51 L313.62,162.66 L314.58,163.82 L315.53,164.98 L316.49,166.17 L317.45,167.36 L318.41,168.57 L319.37,169.79 L320.33,171.03 L321.29,172.28 L322.24,173.55 L323.20,174.83 L324.16,176.13 L325.12,177.44 L326.08,178.77 L327.04,180.12 L328.00,181.48 L328.95,182.87 L329.91,184.27 L330.87,185.69 L331.83,187.13 L332.79,188.59 L333.75,190.07 L334.71,191.58 L335.66,193.10 L336.62,194.65 L337.58,196.22 L338.54,197.81 L339.50,199.42 L340.46,201.06 L341.41,202.73 L342.37,204.42 L343.33,206.13 L344.29,207.88 L345.25,209.64 L346.21,211.44 L347.17,213.26 L348.12,215.11 L349.08,216.99 L350.04,218.90 L351.00,220.83" stroke="#000" stroke-width="1.5" stroke-dasharray="4.9 2.6 1.25 2.45" stroke-dashoffset="7.5"/>
<path d="M159.4,16.6 V221" stroke="#ff00ff" stroke-width="1.2" stroke-dasharray="8.4 2.55 1.6 2.65 1.6 2.65 1.6 2.6" stroke-dashoffset="20.9"/>
<path d="M260.3,16.6 V221" stroke="#ff4500" stroke-width="1.2" stroke-dasharray="8.6 2.5 1.4 2.5 1.4 3.0" stroke-dashoffset="2.2"/>
</g>
<g fill="none">
<path d="M296.9,28.0 H334.9" stroke="#ff0000" stroke-width="1.5"/>
<path d="M296.9,41.8 H334.9" stroke="#00f400" stroke-width="1.5" stroke-dasharray="5.85 2.45"/>
<path d="M296.9,55.7 H334.9" stroke="#0000ff" stroke-width="1.5" stroke-dasharray="1.3 2.2"/>
<path d="M296.9,69.85 H334.9" stroke="#000" stroke-width="1.4" stroke-dasharray="4.5 2.3 1.2 2.9" stroke-dashoffset="6.8"/>
</g>
<rect x="62.6" y="16.6" width="288.70" height="204.40" fill="none" stroke="#000" stroke-width="1.25"/>
<path d="M62.60,221.0 v-4.3 M62.60,16.6 v4.3 M88.85,221.0 v-2.2 M88.85,16.6 v2.2 M115.09,221.0 v-4.3 M115.09,16.6 v4.3 M141.34,221.0 v-2.2 M141.34,16.6 v2.2 M167.58,221.0 v-4.3 M167.58,16.6 v4.3 M193.83,221.0 v-2.2 M193.83,16.6 v2.2 M220.07,221.0 v-4.3 M220.07,16.6 v4.3 M246.32,221.0 v-2.2 M246.32,16.6 v2.2 M272.56,221.0 v-4.3 M272.56,16.6 v4.3 M298.81,221.0 v-2.2 M298.81,16.6 v2.2 M325.05,221.0 v-4.3 M325.05,16.6 v4.3 M351.30,221.0 v-2.2 M351.30,16.6 v2.2 M62.6,16.60 h4.3 M351.3,16.60 h-4.3 M62.6,35.18 h2.2 M351.3,35.18 h-2.2 M62.6,53.76 h4.3 M351.3,53.76 h-4.3 M62.6,72.35 h2.2 M351.3,72.35 h-2.2 M62.6,90.93 h4.3 M351.3,90.93 h-4.3 M62.6,109.51 h2.2 M351.3,109.51 h-2.2 M62.6,128.09 h4.3 M351.3,128.09 h-4.3 M62.6,146.67 h2.2 M351.3,146.67 h-2.2 M62.6,165.25 h4.3 M351.3,165.25 h-4.3 M62.6,183.84 h2.2 M351.3,183.84 h-2.2 M62.6,202.42 h4.3 M351.3,202.42 h-4.3 M62.6,221.00 h2.2 M351.3,221.00 h-2.2" stroke="#000" stroke-width="1.1" fill="none"/>
<text x="54.6" y="22.90" text-anchor="end" font-size="13.9">10<tspan font-size="11.3" dy="-6.7">6</tspan></text>
<text x="54.6" y="60.06" text-anchor="end" font-size="13.9">10<tspan font-size="11.3" dy="-6.7">4</tspan></text>
<text x="54.6" y="97.23" text-anchor="end" font-size="13.9">10<tspan font-size="11.3" dy="-6.7">2</tspan></text>
<text x="54.6" y="134.39" text-anchor="end" font-size="13.9">10<tspan font-size="11.3" dy="-6.7">0</tspan></text>
<text x="54.6" y="171.55" text-anchor="end" font-size="13.9">10<tspan font-size="11.3" dy="-6.7">-2</tspan></text>
<text x="54.6" y="208.72" text-anchor="end" font-size="13.9">10<tspan font-size="11.3" dy="-6.7">-4</tspan></text>
<text x="63.00" y="240.7" text-anchor="middle" font-size="13.9">10<tspan font-size="11.3" dy="-6.3">0</tspan></text>
<text x="115.49" y="240.7" text-anchor="middle" font-size="13.9">10<tspan font-size="11.3" dy="-6.3">2</tspan></text>
<text x="167.98" y="240.7" text-anchor="middle" font-size="13.9">10<tspan font-size="11.3" dy="-6.3">4</tspan></text>
<text x="220.47" y="240.7" text-anchor="middle" font-size="13.9">10<tspan font-size="11.3" dy="-6.3">6</tspan></text>
<text x="272.96" y="240.7" text-anchor="middle" font-size="13.9">10<tspan font-size="11.3" dy="-6.3">8</tspan></text>
<text x="325.45" y="240.7" text-anchor="middle" font-size="13.9">10<tspan font-size="11.3" dy="-6.3">10</tspan></text>
<text x="288.7" y="32.20" text-anchor="end" font-size="13.9">WDM 3keV</text>
<text x="288.7" y="46.00" text-anchor="end" font-size="13.9">WDM 10keV</text>
<text x="288.7" y="59.90" text-anchor="end" font-size="13.9">WDM 30keV</text>
<text x="288.7" y="73.80" text-anchor="end" font-size="13.9">CDM</text>
<text x="77.0" y="215.5" font-size="13.9">z=10</text>
<text x="207.2" y="259.1" text-anchor="middle" font-size="13.9">M[M<tspan font-size="11.3" dy="4.5">sun</tspan><tspan font-size="13.9" dy="-4.5">]</tspan></text>
<text transform="translate(20.3,118.5) rotate(-90)" text-anchor="middle" font-size="13.9">dN/dlnM(M) [Mpc<tspan font-size="11.3" dy="-6.9">-3</tspan><tspan font-size="13.9" dy="6.9">]</tspan></text>
</svg>
</body></html>
